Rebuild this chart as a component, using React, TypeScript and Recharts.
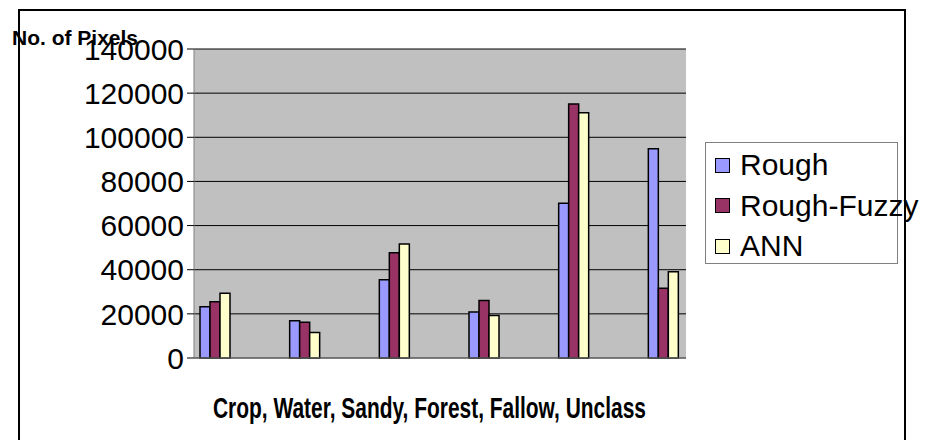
import React from 'react';
import { BarChart, Bar, XAxis, YAxis, CartesianGrid, Legend, Label } from 'recharts';

const categories = ['Crop', 'Water', 'Sandy', 'Forest', 'Fallow', 'Unclass'];
const rough = [23200, 16900, 35500, 20800, 70100, 94800];
const roughFuzzy = [25500, 16200, 47700, 26100, 115100, 31600];
const ann = [29300, 11500, 51700, 19200, 111100, 39100];
const yTicks = [0, 20000, 40000, 60000, 80000, 100000, 120000, 140000];

const series = [
  { key: 'rough', name: 'Rough', color: '#9999FF' },
  { key: 'roughFuzzy', name: 'Rough-Fuzzy', color: '#993366' },
  { key: 'ann', name: 'ANN', color: '#FFFFCC' },
];

const data = categories.map((name, i) => ({
  name,
  rough: rough[i],
  roughFuzzy: roughFuzzy[i],
  ann: ann[i],
}));

const font = '"Liberation Sans", Arial, sans-serif';

const LegendBox = () => (
  <div
    style={{
      width: 193,
      height: 122,
      boxSizing: 'border-box',
      border: '1px solid #808080',
      background: '#fff',
      paddingTop: 2,
      fontFamily: font,
      fontSize: 30,
      color: '#000',
    }}
  >
    {series.map((s) => (
      <div key={s.key} style={{ height: 40.5, display: 'flex', alignItems: 'center', whiteSpace: 'nowrap' }}>
        <span
          style={{
            display: 'inline-block',
            flexShrink: 0,
            width: 15,
            height: 15,
            boxSizing: 'border-box',
            border: '1.5px solid #000',
            background: s.color,
            marginLeft: 9,
            marginRight: 10,
          }}
        />
        <span style={{ flexShrink: 0 }}>{s.name}</span>
      </div>
    ))}
  </div>
);

export default function App() {
  return (
    <div style={{ position: 'absolute', left: 0, top: 0, width: 930, height: 440, overflow: 'hidden', background: '#fff' }}>
      <div
        style={{
          position: 'absolute',
          left: 18,
          top: 9,
          width: 884,
          height: 500,
          border: '2px solid #000',
        }}
      />
      <div style={{ position: 'absolute', left: 0, top: 0 }}>
        <BarChart
          width={930}
          height={440}
          data={data}
          margin={{ top: 49, right: 244, bottom: 0, left: 0 }}
          barSize={10}
          barGap={0}
        >
          <CartesianGrid vertical={false} stroke="#000" fill="#C0C0C0" fillOpacity={1} />
          <XAxis
            dataKey="name"
            height={82}
            padding={{ left: -24, right: -22 }}
            tick={false}
            tickLine={false}
            axisLine={{ stroke: '#808080' }}
            label={
              <Label
                content={() => (
                  <text
                    x={429.5}
                    y={418}
                    textAnchor="middle"
                    fontFamily={font}
                    fontWeight="bold"
                    fontSize={29}
                    textLength={433}
                    lengthAdjust="spacingAndGlyphs"
                    fill="#000"
                  >
                    Crop, Water, Sandy, Forest, Fallow, Unclass
                  </text>
                )}
              />
            }
          />
          <XAxis
            xAxisId="top"
            orientation="top"
            dataKey="name"
            height={0}
            tick={false}
            tickLine={false}
            axisLine={{ stroke: '#808080' }}
          />
          <YAxis
            width={194}
            domain={[0, 140000]}
            ticks={yTicks}
            interval={0}
            tickSize={7}
            tickMargin={3}
            tick={{ fontSize: 30, fontFamily: font, fill: '#000' }}
            tickLine={{ stroke: '#000' }}
            axisLine={{ stroke: '#808080' }}
            label={
              <Label
                content={() => (
                  <text x={12} y={45} fontFamily={font} fontWeight="bold" fontSize={21} fill="#000">
                    No. of Pixels
                  </text>
                )}
              />
            }
          />
          <YAxis
            yAxisId="right"
            orientation="right"
            width={0}
            domain={[0, 140000]}
            tick={false}
            tickLine={false}
            axisLine={{ stroke: '#808080' }}
          />
          <Legend
            layout="vertical"
            align="center"
            verticalAlign="middle"
            content={() => <LegendBox />}
            wrapperStyle={{ left: 705, top: 142, width: 193, height: 122 }}
          />
          {series.map((s) => (
            <Bar
              key={s.key}
              dataKey={s.key}
              name={s.name}
              fill={s.color}
              stroke="#000"
              strokeWidth={1.5}
              isAnimationActive={false}
            />
          ))}
        </BarChart>
      </div>
    </div>
  );
}
